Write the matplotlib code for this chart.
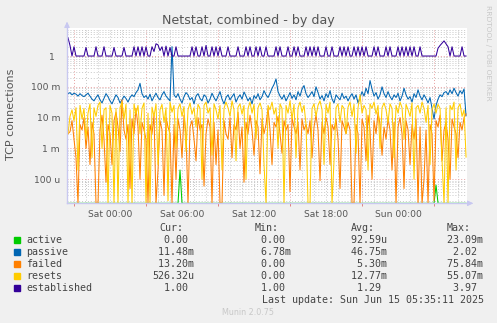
import numpy as np
import matplotlib
matplotlib.use("Agg")
import matplotlib.pyplot as plt
from matplotlib.patches import Rectangle
from matplotlib.ticker import NullLocator

# --- data: one sample per 10 min, values in milli ---
active_m = [
    0, 0, 0, 0, 0, 0, 0, 0, 0, 0, 0, 0, 0, 0, 0, 0, 0, 0, 0, 0,
    0, 0, 0, 0, 0, 0, 0, 0, 0, 0, 0, 0, 0, 0, 0, 0, 0, 0, 0, 0,
    0, 0, 0, 0, 0, 0, 0, 0, 0, 0, 0, 0, 0, 0, 0, 0, 0.2, 0, 0, 0,
    0, 0, 0, 0, 0, 0, 0, 0, 0, 0, 0, 0, 0, 0, 0, 0, 0, 0, 0, 0,
    0, 0, 0, 0, 0, 0, 0, 0, 0, 0, 0, 0, 0, 0, 0, 0, 0, 0, 0, 0,
    0, 0, 0, 0, 0, 0, 0, 0, 0, 0, 0, 0, 0, 0, 0, 0, 0, 0, 0, 0,
    0, 0, 0, 0, 0, 0, 0, 0, 0, 0, 0, 0, 0, 0, 0, 0, 0, 0, 0, 0,
    0, 0, 0, 0, 0, 0, 0, 0, 0, 0, 0, 0, 0, 0, 0, 0, 0, 0, 0, 0,
    0, 0, 0, 0, 0, 0, 0, 0, 0, 0, 0, 0, 0, 0, 0, 0, 0, 0, 0, 0,
    0, 0, 0, 0, 0.065, 0, 0, 0, 0, 0, 0, 0, 0, 0, 0, 0, 0, 0, 0, 0,
]
passive_m = [
    60, 65, 55, 62, 58, 50, 60, 52, 48, 55, 62, 50, 40, 35, 45, 55, 38, 30, 42, 60,
    48, 35, 28, 40, 55, 45, 30, 38, 50, 42, 32, 45, 55, 48, 65, 80, 130, 60, 45, 52,
    40, 58, 35, 48, 62, 45, 38, 55, 70, 50, 42, 35, 2020, 55, 45, 60, 40, 30, 48, 65,
    55, 38, 45, 28, 50, 60, 42, 35, 55, 48, 30, 40, 62, 45, 35, 50, 70, 40, 28, 45,
    55, 38, 48, 60, 32, 45, 55, 40, 68, 50, 35, 45, 28, 52, 42, 60, 38, 48, 75, 55,
    45, 62, 90, 120, 180, 70, 50, 40, 55, 35, 48, 65, 42, 55, 38, 70, 50, 85, 110, 60,
    45, 55, 70, 48, 100, 65, 40, 52, 35, 60, 45, 75, 40, 30, 55, 45, 38, 62, 42, 50,
    35, 48, 60, 40, 55, 30, 45, 70, 50, 90, 60, 160, 85, 50, 65, 40, 55, 100, 60, 45,
    70, 48, 38, 55, 45, 62, 35, 50, 90, 55, 40, 48, 32, 60, 45, 80, 50, 38, 55, 42,
    30, 45, 20, 9, 25, 40, 55, 48, 65, 70, 55, 80, 60, 90, 65, 50, 75, 60, 85, 11.48,
]
failed_m = [
    3, 3.5, 8, 2, 0.5, 0, 6, 4, 10, 1, 5, 0.3, 7, 3, 0, 0, 4, 12, 2, 0.08,
    6, 3, 0.3, 8, 15, 5, 0.8, 38, 4, 2, 6, 0.05, 9, 3, 20, 5, 0.1, 7, 4, 2,
    0, 6, 3, 12, 0, 0.2, 8, 4, 0.03, 10, 5, 3, 0, 6, 0.1, 9, 4, 0.5, 12, 3,
    0, 5, 8, 2, 0.4, 10, 4, 6, 0.06, 3, 9, 5, 0, 7, 0.3, 4, 0, 0, 8, 3,
    2, 10, 0.5, 6, 4, 15, 1, 5, 0.08, 7, 3, 12, 4, 0.6, 8, 5, 0.15, 9, 3, 6,
    20, 4, 0.3, 7, 5, 11, 3, 0.7, 8, 4, 6, 0.04, 10, 5, 3, 7, 0.2, 9, 4, 6,
    3, 8, 0.5, 5, 12, 4, 0.09, 7, 3, 10, 5, 0.3, 6, 4, 9, 2, 0.05, 8, 5, 3,
    7, 4, 0, 0, 6, 3, 0, 9, 5, 0.4, 12, 4, 0.1, 8, 3, 15, 6, 0.6, 5, 2,
    9, 4, 0.2, 7, 0, 5, 10, 3, 0.05, 8, 4, 0.3, 6, 2, 9, 0, 5, 0, 0.1, 4,
    0, 6, 3, 0.02, 8, 5, 12, 0.4, 4, 7, 2, 0.1, 9, 5, 3, 0.5, 7, 4, 10, 13.2,
]
resets_m = [
    3, 11, 18, 8, 21, 0.2, 25, 9, 20, 2, 14, 28, 0.5, 21, 11, 25, 32, 1, 18, 21,
    0, 25, 14, 0, 20, 0, 21, 32, 9, 27, 0, 18, 0, 28, 13, 25, 3, 20, 30, 0,
    14, 0, 22, 11, 28, 0.3, 18, 27, 7, 21, 0.02, 32, 15, 25, 1, 20, 28, 11, 23, 0.8,
    18, 30, 13, 21, 5, 27, 20, 0.1, 25, 32, 14, 21, 0.6, 28, 18, 9, 25, 0.2, 20, 32,
    21, 11, 35, 18, 0.4, 22, 28, 13, 25, 0.1, 20, 32, 14, 27, 2, 21, 30, 18, 0.3, 0,
    25, 18, 32, 13, 21, 1, 28, 20, 0, 25, 14, 35, 9, 27, 0.5, 21, 32, 15, 25, 6,
    0, 0, 20, 28, 11, 25, 35, 18, 0.3, 27, 14, 32, 0, 0.4, 21, 28, 7, 25, 20, 3,
    22, 32, 11, 27, 0.7, 21, 55.07, 14, 25, 18, 0.2, 28, 20, 32, 13, 25, 1, 21, 30, 18,
    7, 28, 20, 0.5, 25, 14, 32, 21, 2, 27, 18, 11, 30, 0.1, 21, 25, 14, 32, 20, 7,
    25, 0.3, 18, 28, 14, 27, 20, 0.4, 0, 21, 0, 25, 18, 32, 0.2, 21, 28, 11, 18, 0.526,
]
established = [
    3.9, 2.2, 1, 2.0, 1, 1, 1, 1, 1, 1.9, 1, 1, 1, 1, 2.0, 1, 1, 1, 2.0, 1,
    1, 1, 1, 1.9, 1, 1, 1, 1, 1.9, 1, 1, 1, 1, 2.0, 1, 2.0, 1, 2.0, 1, 2.0,
    1, 1, 2.0, 1.4, 2.5, 2.3, 1.5, 2.0, 1, 2.1, 1, 1.9, 1, 1, 2.0, 1, 1, 1, 1, 1,
    1, 1, 2.0, 1, 2.0, 1, 1, 2.0, 1, 2.2, 1, 1, 2.0, 1, 2.0, 1, 2.0, 1, 1, 1,
    2.0, 1, 1, 1, 1, 2.0, 1, 1, 1, 2.0, 1, 2.0, 1, 1, 2.0, 1, 2.0, 1, 1, 2.0,
    1, 1, 1, 1, 2.0, 1, 2.0, 1, 1, 1, 2.0, 1, 1, 2.0, 1, 2.0, 1, 1, 1, 2.0,
    1, 2.0, 1, 2.0, 1, 2.0, 1, 1, 1, 2.0, 1, 1, 2.0, 1, 1, 1, 2.0, 1, 2.0, 1,
    2.0, 1, 1, 2.0, 1, 2.0, 1, 2.0, 1, 2.0, 1, 1, 1, 2.0, 1, 2.0, 1, 1, 1, 2.0,
    1, 2.0, 1, 1, 1, 2.0, 1, 2.0, 1, 2.0, 1, 2.0, 1, 2.0, 1, 1, 2.0, 1, 1, 1,
    1, 1, 1, 1, 1, 1.8, 2.2, 2.6, 3.1, 2.5, 2.0, 1, 2.0, 1, 1, 1, 1, 2.0, 1, 1,
]

series_names = ["active", "passive", "failed", "resets", "established"]
series_colors = ["#00CC00", "#0066B3", "#FF8000", "#FFCC00", "#330099"]
cur_vals = [0.0, 11.48e-3, 13.20e-3, 526.32e-6, 1.00]
min_vals = [0.0, 6.78e-3, 0.0, 0.0, 1.00]
avg_vals = [92.59e-6, 46.75e-3, 5.30e-3, 12.77e-3, 1.29]
max_vals = [23.09e-3, 2.02, 75.84e-3, 55.07e-3, 3.97]

x_labels = ["Sat 00:00", "Sat 06:00", "Sat 12:00", "Sat 18:00", "Sun 00:00"]
y_ticks = [1e-4, 1e-3, 1e-2, 1e-1, 1]
y_labels = ["100 u", "1 m", "10 m", "100 m", "1  "]

W, H = 497, 323
T0, T1 = -3.58, 29.75        # hours relative to Sat 00:00
YLO, YHI = 10 ** -4.78, 10 ** 0.9


def fx(x):
    return x / W


def fy(y):
    return 1 - y / H


def si(v):
    if v == 0:
        return "%6.2f " % 0
    if v >= 1:
        return "%6.2f " % v
    if v >= 1e-3:
        return "%6.2fm" % (v * 1e3)
    return "%6.2fu" % (v * 1e6)


fig = plt.figure(figsize=(W / 100, H / 100), dpi=100)
fig.patch.set_facecolor("#F0F0F0")
ax = fig.add_axes([fx(67), fy(203.3), 400 / W, 175 / H])
ax.set_facecolor("white")
ax.set_yscale("log")
ax.set_xlim(T0, T1)
ax.set_ylim(YLO, YHI)
for s in ax.spines.values():
    s.set_visible(False)

# grid
for h in range(-3, 30):
    major = (h + 3) % 6 == 0
    ax.axvline(h, color="#E8A0A0" if major else "#C8C8C8",
               lw=0.7, ls=(0, (1, 2)), zorder=0)
for d in range(-5, 1):
    for k in range(1, 10):
        yv = k * 10.0 ** d
        if YLO < yv < YHI:
            ax.axhline(yv, color="#E8A0A0" if k == 1 else "#C8C8C8",
                       lw=0.7, ls=(0, (1, 2)), zorder=0)

# series
n = len(passive_m)
t = T0 + (np.arange(n) * 2 + 1) / 12.0
data = [np.array(active_m) / 1000, np.array(passive_m) / 1000,
        np.array(failed_m) / 1000, np.array(resets_m) / 1000,
        np.array(established, dtype=float)]
for vals, c in zip(data, series_colors):
    ax.plot(t, np.clip(vals, YLO, None), color=c, lw=0.75, zorder=2)

# ticks
ax.set_xticks([0, 6, 12, 18, 24])
ax.set_xticklabels(x_labels, fontsize=6.6, color="#555555")
ax.set_xticks([-3, 3, 9, 15, 21, 27], minor=True)
ax.tick_params(axis="x", which="major", length=0, pad=5)
ax.tick_params(axis="x", which="minor", length=2, color="#E08080", width=0.7)
ax.set_yticks(y_ticks)
ax.set_yticklabels(y_labels, fontsize=6.6, color="#555555")
ax.yaxis.set_minor_locator(NullLocator())
ax.tick_params(axis="y", length=0, pad=5)

# axes with arrows
arrow_c = "#C8C8F0"
fig.add_artist(plt.Line2D([fx(67), fx(67)], [fy(203.3), fy(24)], color=arrow_c, lw=1))
fig.add_artist(plt.Line2D([fx(67), fx(470)], [fy(203.3), fy(203.3)], color=arrow_c, lw=1))
ax.annotate("", xy=(fx(67), fy(19)), xytext=(fx(67), fy(27)), xycoords="figure fraction",
            arrowprops=dict(arrowstyle="-|>", color=arrow_c, lw=0.8, mutation_scale=8))
ax.annotate("", xy=(fx(476), fy(203.3)), xytext=(fx(468), fy(203.3)), xycoords="figure fraction",
            arrowprops=dict(arrowstyle="-|>", color=arrow_c, lw=0.8, mutation_scale=8))

# titles
fig.text(fx(248), fy(24), "Netstat, combined - by day", ha="center", va="baseline",
         fontsize=9.1, color="#555555")
fig.text(fx(11), fy(114), "TCP connections", rotation=90, ha="center", va="center",
         fontsize=8, color="#555555")
fig.text(fx(488), fy(53), "RRDTOOL / TOBI OETIKER", rotation=270, ha="center", va="center",
         fontsize=5.4, color="#C8C8C8")

# legend
mono = dict(family="DejaVu Sans Mono", fontsize=7.2, color="#444444", va="baseline")
fig.text(fx(159), fy(231), "Cur:", **mono)
fig.text(fx(255), fy(231), "Min:", **mono)
fig.text(fx(351), fy(231), "Avg:", **mono)
fig.text(fx(447), fy(231), "Max:", **mono)
for i, name in enumerate(series_names):
    yb = 243.3 + 12 * i
    fig.add_artist(Rectangle((fx(14), fy(yb - 0.5)), 6 / W, 6 / H,
                             transform=fig.transFigure, color=series_colors[i]))
    fig.text(fx(26.5), fy(yb), name, **mono)
    fig.text(fx(152), fy(yb), si(cur_vals[i]), **mono)
    fig.text(fx(249), fy(yb), si(min_vals[i]), **mono)
    fig.text(fx(345), fy(yb), si(avg_vals[i]), **mono)
    fig.text(fx(441), fy(yb), si(max_vals[i]), **mono)
fig.text(fx(261.7), fy(303.3), "Last update: Sun Jun 15 05:35:11 2025", **mono)
fig.text(fx(248), fy(315), "Munin 2.0.75", ha="center", va="baseline",
         fontsize=5.8, color="#C8C8C8")

fig.savefig("out.png", dpi=100, facecolor=fig.get_facecolor())
